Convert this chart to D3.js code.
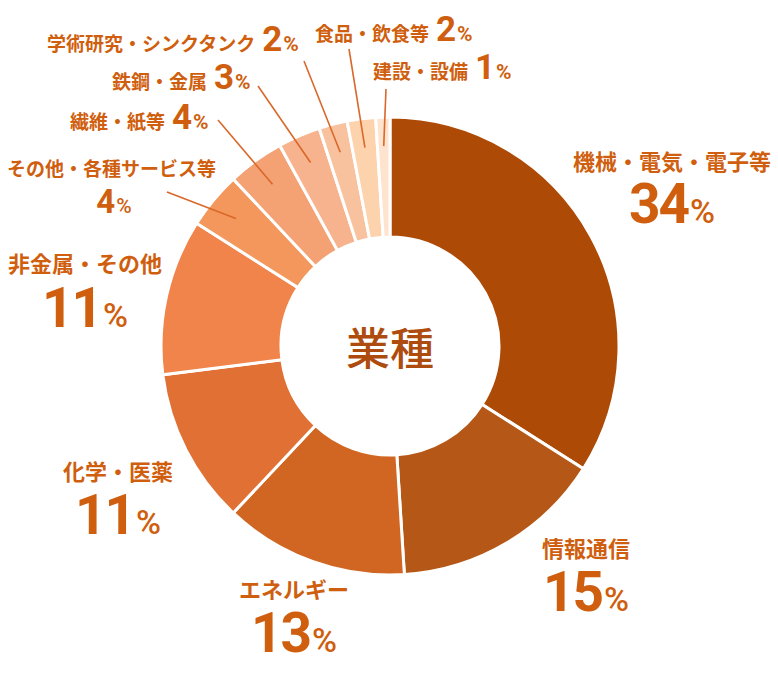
<!DOCTYPE html>
<html lang="ja">
<head>
<meta charset="utf-8">
<title>業種</title>
<script src="https://cdn.jsdelivr.net/npm/d3@7"></script>
<style>
  body { margin: 0; background: #fff; }
  svg { display: block; }
  .name { font-family: "Noto Sans CJK JP", sans-serif; font-weight: 700; fill: #cf5f0f; }
  .num { font-family: Roboto, "Noto Sans", sans-serif; font-weight: 700; fill: #cf5f0f; }
</style>
</head>
<body>
<svg id="chart"></svg>
<script>
const categories = ["機械・電気・電子等", "情報通信", "エネルギー", "化学・医薬", "非金属・その他",
  "その他・各種サービス等", "繊維・紙等", "鉄鋼・金属", "学術研究・シンクタンク", "食品・飲食等", "建設・設備"];
const shares = [34, 15, 13, 11, 11, 4, 4, 3, 2, 2, 1];
const sliceColors = ["#ad4a06", "#b55817", "#d06621", "#e07033", "#f0844a", "#f3975c",
  "#f4a173", "#f6b38d", "#f9c29e", "#fdd3ae", "#fee3cf"];
const centerTitle = "業種";

// label layout: big = stacked & centred, small = inline with leader line
const labelLayout = [
  { type: "big", x: 672, y: 170, py: 223 },
  { type: "big", x: 586, y: 557, py: 611 },
  { type: "big", x: 294, y: 598, py: 652 },
  { type: "big", x: 118, y: 480, py: 534 },
  { type: "big", x: 85, y: 272, py: 327 },
  { type: "stack", x: 7, y: 176, px: 114, py: 213, lx: 167, ly: 192 },
  { type: "small", x: 70, y: 129, lx: 218, ly: 120 },
  { type: "small", x: 112, y: 89, lx: 258, ly: 86 },
  { type: "small", x: 47, y: 51, lx: 304, ly: 61 },
  { type: "small", x: 315, y: 41, lx: 349, ly: 49 },
  { type: "small", x: 373, y: 79, lx: 386, ly: 89 }
];

const width = 778, height = 692;
const cx = 390, cy = 346;
const outerR = 229, innerR = 109;

const svg = d3.select("#chart").attr("width", width).attr("height", height);

const data = categories.map((c, i) => ({ name: c, value: shares[i], color: sliceColors[i], layout: labelLayout[i] }));

const pie = d3.pie().value(d => d.value).sort(null);
const arc = d3.arc().innerRadius(innerR).outerRadius(outerR);
const leaderArc = d3.arc().innerRadius(200).outerRadius(200);
const arcs = pie(data);

const g = svg.append("g").attr("transform", `translate(${cx},${cy})`);

g.selectAll("path.slice")
  .data(arcs)
  .enter()
  .append("path")
  .attr("class", "slice")
  .attr("d", arc)
  .attr("fill", d => d.data.color)
  .attr("stroke", "#fff")
  .attr("stroke-width", 3);

g.append("text")
  .attr("text-anchor", "middle")
  .attr("dominant-baseline", "central")
  .attr("font-family", "'Noto Sans CJK JP', sans-serif")
  .attr("font-weight", 500)
  .attr("font-size", 44)
  .attr("fill", "#ad4c0e")
  .text(centerTitle);

// leader lines for the thin slices
arcs.filter(d => d.data.layout.type !== "big").forEach(d => {
  const [ex, ey] = leaderArc.centroid(d);
  svg.append("line")
    .attr("x1", d.data.layout.lx).attr("y1", d.data.layout.ly)
    .attr("x2", cx + ex).attr("y2", cy + ey)
    .attr("stroke", "#d9682a")
    .attr("stroke-width", 1.6);
});

arcs.forEach(d => {
  const L = d.data.layout;
  if (L.type === "big") {
    svg.append("text").attr("class", "name")
      .attr("x", L.x).attr("y", L.y)
      .attr("text-anchor", "middle")
      .attr("font-size", 22)
      .text(d.data.name);
    const t = svg.append("text").attr("class", "num")
      .attr("x", L.x).attr("y", L.py)
      .attr("text-anchor", "middle");
    t.append("tspan").attr("font-size", 55).attr("letter-spacing", -2).text(d.data.value);
    t.append("tspan").attr("font-size", 34).attr("font-weight", 500).attr("dx", 2).text("%");
  } else if (L.type === "stack") {
    svg.append("text").attr("class", "name")
      .attr("x", L.x).attr("y", L.y)
      .attr("font-size", 19)
      .text(d.data.name);
    const t = svg.append("text").attr("class", "num")
      .attr("x", L.px).attr("y", L.py)
      .attr("text-anchor", "middle");
    t.append("tspan").attr("font-size", 33).text(d.data.value);
    t.append("tspan").attr("font-size", 21).attr("font-weight", 500).attr("dx", 1).text("%");
  } else {
    const t = svg.append("text").attr("x", L.x).attr("y", L.y);
    t.append("tspan").attr("class", "name").attr("font-size", 19).text(d.data.name);
    t.append("tspan").attr("class", "num").attr("dx", 7).attr("font-size", 35).text(d.data.value);
    t.append("tspan").attr("class", "num").attr("dx", 1).attr("font-size", 21).attr("font-weight", 500).text("%");
  }
});
</script>
</body>
</html>
